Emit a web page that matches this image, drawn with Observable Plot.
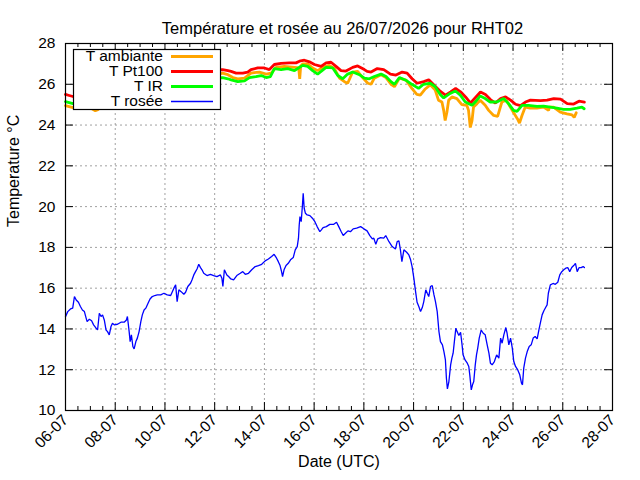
<!DOCTYPE html>
<html><head><meta charset="utf-8">
<script src="https://cdn.jsdelivr.net/npm/d3@7"></script>
<script src="https://cdn.jsdelivr.net/npm/@observablehq/plot@0.6"></script>
<style>
body{margin:0;background:#fff;}
#chart svg{display:block;}
</style></head>
<body><div id="chart"></div>
<script>
// ---- data (day offset from 06-07-2026 00:00 UTC, °C) ----
const titleText = "Température et rosée au 26/07/2026 pour RHT02";
const yLabel = "Temperature °C";
const xLabel = "Date (UTC)";
const seriesNames = ["T ambiante", "T Pt100", "T IR", "T rosée"];
const seriesColors = ["#ffa500", "#ff0000", "#00ff00", "#0000ff"];
const xTickDays = [0,2,4,6,8,10,12,14,16,18,20,22];
const yTickValues = [10,12,14,16,18,20,22,24,26,28];

const ambientPoints = [[0,24.95],[0.15,24.9],[0.3,24.85],[0.6,25.0],[1.0,24.85],[1.2,24.7],[1.3,24.75],[1.5,25.0],[2.0,25.2],[2.5,25.4],[3.0,25.6],[3.5,25.8],[4.0,25.95],[4.5,26.1],[5.0,26.25],[5.5,26.4],[6.0,26.45],
[6.32,26.55],[6.53,26.47],[6.73,26.33],[6.93,26.27],[7.2,26.3],[7.46,26.55],[7.8,26.6],[8.07,26.5],[8.27,26.55],[8.47,26.83],[8.8,26.88],[9.21,26.83],[9.38,26.8],[9.42,26.27],[9.46,26.9],[9.54,27.0],[9.74,27.0],[9.94,26.8],[10.14,26.67],[10.35,26.83],[10.61,26.93],[10.82,26.77],[11.02,26.3],[11.22,26.13],[11.35,26.05],[11.55,26.6],[11.75,26.63],[11.95,26.33],[12.16,26.05],[12.29,26.0],[12.42,26.3],[12.69,26.47],[12.89,26.33],[13.09,26.0],[13.23,25.88],[13.43,26.3],[13.7,26.2],[13.93,25.8],[14.13,25.5],[14.27,25.47],[14.47,25.77],[14.67,25.97],[14.87,25.72],[15.0,25.22],[15.14,25.13],[15.21,24.72],[15.27,24.22],[15.34,24.63],[15.41,25.22],[15.54,25.38],[15.74,25.3],[15.94,25.0],[16.14,24.97],[16.21,24.72],[16.28,23.88],[16.35,24.22],[16.41,24.88],[16.55,25.05],[16.68,25.22],[16.88,24.97],[17.02,24.72],[17.22,24.47],[17.38,24.43],[17.55,25.13],[17.73,25.22],[17.89,24.88],[18.05,24.55],[18.18,24.3],[18.26,24.1],[18.36,24.47],[18.49,24.88],[18.69,24.83],[18.96,24.83],[19.23,24.88],[19.43,24.72],[19.46,24.88],[19.63,24.88],[19.9,24.63],[20.17,24.55],[20.37,24.5],[20.46,24.38],[20.54,24.6]];

const pt100Points = [[0,25.5],[0.15,25.45],[0.3,25.4],[0.6,25.4],[1.0,25.35],[1.5,25.5],[2.0,25.65],[2.5,25.8],[3.0,25.95],[3.5,26.1],[4.0,26.2],[4.5,26.35],[5.0,26.45],[5.5,26.6],[6.0,26.7],
[6.32,26.72],[6.53,26.67],[6.66,26.63],[6.86,26.55],[7.13,26.55],[7.33,26.6],[7.46,26.72],[7.73,26.8],[8.0,26.8],[8.2,26.72],[8.4,26.97],[8.67,27.03],[9.0,27.05],[9.27,27.05],[9.41,27.13],[9.61,27.18],[9.81,27.1],[10.01,26.97],[10.28,26.88],[10.48,27.05],[10.68,27.08],[10.88,26.88],[11.08,26.67],[11.28,26.65],[11.55,26.83],[11.75,26.9],[12.02,26.72],[12.13,26.63],[12.29,26.6],[12.54,26.77],[12.8,26.72],[13.07,26.5],[13.29,26.45],[13.54,26.6],[13.74,26.55],[13.94,26.27],[14.14,26.05],[14.41,26.13],[14.61,26.22],[14.82,25.97],[15.08,25.65],[15.28,25.47],[15.49,25.63],[15.69,25.8],[15.89,25.63],[16.09,25.38],[16.29,25.08],[16.49,25.35],[16.69,25.62],[16.89,25.5],[17.09,25.25],[17.29,25.08],[17.5,25.3],[17.7,25.38],[17.9,25.22],[18.1,25.02],[18.3,24.95],[18.5,25.13],[18.7,25.22],[19.1,25.2],[19.37,25.22],[19.64,25.3],[19.91,25.27],[20.18,25.05],[20.44,25.03],[20.65,25.17],[20.87,25.13]];

const irPoints = [[0,25.15],[0.15,25.1],[0.3,25.05],[0.6,25.1],[1.0,25.0],[1.5,25.2],[2.0,25.35],[2.5,25.5],[3.0,25.65],[3.5,25.8],[4.0,25.9],[4.5,26.0],[5.0,26.1],[5.5,26.2],[6.0,26.3],
[6.32,26.33],[6.53,26.27],[6.66,26.22],[6.93,26.13],[7.2,26.17],[7.4,26.33],[7.66,26.38],[7.87,26.43],[8.07,26.33],[8.24,26.38],[8.4,26.77],[8.67,26.72],[8.94,26.77],[9.21,26.67],[9.37,26.8],[9.54,26.93],[9.74,26.88],[9.94,26.67],[10.14,26.5],[10.28,26.63],[10.48,26.83],[10.75,26.8],[10.95,26.43],[11.15,26.27],[11.35,26.5],[11.55,26.6],[11.82,26.47],[12.02,26.3],[12.22,26.27],[12.42,26.38],[12.69,26.5],[12.89,26.38],[13.09,26.13],[13.23,26.0],[13.43,26.33],[13.73,26.17],[13.93,26.0],[14.2,25.8],[14.4,26.0],[14.67,26.05],[14.87,25.88],[15.07,25.5],[15.21,25.33],[15.47,25.55],[15.68,25.67],[15.88,25.47],[16.08,25.13],[16.35,24.97],[16.48,25.13],[16.68,25.43],[16.88,25.3],[17.08,25.13],[17.35,25.13],[17.62,25.3],[17.82,25.05],[18.02,24.72],[18.16,24.67],[18.36,24.97],[18.62,24.97],[18.96,24.92],[19.23,24.93],[19.5,24.88],[19.76,24.83],[20.03,24.77],[20.3,24.77],[20.57,24.83],[20.77,24.88],[20.86,24.8]];

const dewPoints = [[0,14.6],[0.09,14.85],[0.2,14.98],[0.29,15.02],[0.36,15.59],[0.43,15.42],[0.52,15.31],[0.6,15.1],[0.68,14.93],[0.76,14.85],[0.83,14.53],[0.87,14.36],[0.96,14.48],[1.05,14.4],[1.13,14.2],[1.23,14.04],[1.29,13.95],[1.36,14.77],[1.43,14.61],[1.49,14.69],[1.56,14.44],[1.63,13.95],[1.69,13.87],[1.76,13.71],[1.83,14.12],[1.89,14.28],[1.96,14.2],[2.09,14.23],[2.23,14.33],[2.36,14.33],[2.45,14.44],[2.49,14.61],[2.56,13.87],[2.6,13.38],[2.65,13.71],[2.71,13.14],[2.76,13.02],[2.83,13.38],[2.89,13.55],[2.96,13.87],[3.03,14.36],[3.09,14.69],[3.16,14.93],[3.23,15.02],[3.32,15.26],[3.4,15.47],[3.49,15.59],[3.59,15.64],[3.69,15.67],[3.83,15.67],[3.96,15.75],[4.09,15.67],[4.23,15.64],[4.36,16.0],[4.43,16.16],[4.49,15.34],[4.56,15.92],[4.65,15.83],[4.76,15.7],[4.83,15.8],[4.92,16.08],[5.03,16.24],[5.09,16.41],[5.16,16.65],[5.23,16.81],[5.29,16.94],[5.36,17.17],[5.43,17.01],[5.49,16.9],[5.56,16.73],[5.69,16.62],[5.83,16.68],[5.96,16.62],[6.09,16.57],[6.23,16.65],[6.29,16.49],[6.33,16.08],[6.39,16.9],[6.49,16.65],[6.56,16.57],[6.65,16.45],[6.76,16.41],[6.89,16.62],[7.03,16.73],[7.13,16.81],[7.23,16.68],[7.36,16.73],[7.49,16.9],[7.63,17.06],[7.76,17.11],[7.89,17.17],[8.03,17.34],[8.16,17.43],[8.29,17.55],[8.39,17.66],[8.49,17.47],[8.56,17.3],[8.63,17.11],[8.69,16.81],[8.73,16.57],[8.79,16.9],[8.87,17.11],[8.96,17.22],[9.05,17.39],[9.16,17.5],[9.24,17.88],[9.32,18.04],[9.37,18.45],[9.4,19.1],[9.43,19.51],[9.48,19.26],[9.53,20.08],[9.56,20.65],[9.6,19.92],[9.65,19.67],[9.72,19.59],[9.83,19.56],[9.93,19.43],[10.03,19.26],[10.12,19.02],[10.23,18.77],[10.29,18.86],[10.36,18.97],[10.49,19.02],[10.63,19.13],[10.79,19.13],[10.9,19.23],[10.99,19.02],[11.09,18.77],[11.17,18.58],[11.26,18.69],[11.36,18.81],[11.46,18.77],[11.57,18.91],[11.71,18.94],[11.87,19.02],[12.0,18.91],[12.13,18.81],[12.24,18.58],[12.34,18.42],[12.4,18.45],[12.48,18.15],[12.56,18.42],[12.67,18.48],[12.8,18.45],[12.88,18.58],[13.01,18.28],[13.14,18.04],[13.27,17.92],[13.34,18.28],[13.41,18.32],[13.47,17.88],[13.53,17.3],[13.61,17.88],[13.72,17.76],[13.81,17.63],[13.88,17.39],[13.94,17.06],[14.01,16.49],[14.08,15.83],[14.14,15.31],[14.21,15.1],[14.28,14.85],[14.35,15.05],[14.41,15.34],[14.49,15.92],[14.55,15.75],[14.61,15.59],[14.68,16.08],[14.75,16.13],[14.82,15.67],[14.88,15.34],[14.95,14.85],[15.02,13.87],[15.08,13.38],[15.16,13.22],[15.22,12.89],[15.28,12.48],[15.32,11.58],[15.36,11.06],[15.42,11.42],[15.49,12.24],[15.54,12.57],[15.59,12.81],[15.64,13.38],[15.7,14.04],[15.75,13.87],[15.82,13.68],[15.89,13.84],[15.95,13.22],[15.99,12.73],[16.07,12.48],[16.16,12.32],[16.22,12.16],[16.26,11.75],[16.32,11.01],[16.37,11.26],[16.42,11.42],[16.48,12.24],[16.53,12.73],[16.58,13.06],[16.64,13.55],[16.72,13.95],[16.8,13.79],[16.88,13.71],[16.96,13.22],[17.03,12.81],[17.09,12.32],[17.16,12.24],[17.25,12.4],[17.34,12.73],[17.43,12.57],[17.5,13.55],[17.56,13.3],[17.63,13.71],[17.71,14.07],[17.76,13.79],[17.83,13.22],[17.9,13.55],[17.97,13.06],[18.03,12.4],[18.1,12.16],[18.19,11.99],[18.27,11.75],[18.34,11.34],[18.38,11.26],[18.43,12.08],[18.5,12.57],[18.57,12.89],[18.65,13.14],[18.73,13.22],[18.81,13.55],[18.89,13.63],[18.97,13.51],[19.04,13.95],[19.11,14.36],[19.17,14.69],[19.24,14.89],[19.31,15.05],[19.37,15.18],[19.42,15.75],[19.5,16.16],[19.61,16.23],[19.7,16.19],[19.8,16.29],[19.88,16.65],[19.96,16.81],[20.04,16.9],[20.12,16.98],[20.2,17.01],[20.28,16.81],[20.36,17.01],[20.44,17.11],[20.51,17.22],[20.58,16.81],[20.66,17.01],[20.74,17.01],[20.82,17.06],[20.87,17.01]];

// ---- build ----
const T0 = Date.UTC(2026, 6, 6);
const DAY = 864e5;
const toDate = d => new Date(T0 + d * DAY);
const rows = pts => pts.map(([d, v]) => ({date: toDate(d), value: v}));
const allSeries = [ambientPoints, pt100Points, irPoints, dewPoints].map(rows);

const W = 640, H = 480, mL = 65, mR = 28, mT = 43, mB = 70;
const innerW = W - mL - mR, innerH = H - mT - mB;
const majorDates = xTickDays.map(toDate);
const minorDates = d3.range(0.5, 22, 1).map(toDate).concat(d3.range(1, 22, 2).map(toDate));
const gridDates = majorDates.slice(1, -1);
const gridY = yTickValues.slice(1, -1);
const grid = {stroke: "#a0a0a0", strokeDasharray: "2,3", strokeWidth: 1};
const font = "'Liberation Sans', Arial, Helvetica, sans-serif";

const chart = Plot.plot({
  width: W, height: H,
  marginLeft: mL, marginRight: mR, marginTop: mT, marginBottom: mB,
  style: {fontFamily: font, fontSize: "15.5px", color: "#000", background: "#fff", overflow: "visible"},
  x: {type: "utc", domain: [toDate(0), toDate(22)]},
  y: {domain: [10, 28]},
  marks: [
    Plot.ruleX(gridDates, grid),
    Plot.ruleY(gridY, grid),
    ...allSeries.map((data, i) => Plot.line(data, {
      x: "date", y: "value", stroke: seriesColors[i],
      strokeWidth: i === 3 ? 1.3 : 2.8, strokeLinejoin: "miter"
    })),
    Plot.frame({stroke: "#000", strokeWidth: 1.2}),
    Plot.ruleX(majorDates, {insetTop: innerH - 8, stroke: "#000"}),
    Plot.ruleX(majorDates, {insetBottom: innerH - 8, stroke: "#000"}),
    Plot.ruleX(minorDates, {insetTop: innerH - 4, stroke: "#000"}),
    Plot.ruleX(minorDates, {insetBottom: innerH - 4, stroke: "#000"}),
    Plot.ruleY(yTickValues, {insetRight: innerW - 8, stroke: "#000"}),
    Plot.ruleY(yTickValues, {insetLeft: innerW - 8, stroke: "#000"}),
    Plot.axisX({ticks: majorDates, tickFormat: d3.utcFormat("%d-%m"), tickSize: 0, tickPadding: 7, tickRotate: -45, label: null}),
    Plot.axisY({ticks: yTickValues, tickSize: 0, tickPadding: 10, label: null}),
    Plot.text([titleText], {text: d => d, frameAnchor: "top", dy: -21, dx: 3.5, fontSize: 16.5}),
    Plot.text([yLabel], {text: d => d, frameAnchor: "left", dx: -52, rotate: -90, fontSize: 16}),
    Plot.text([xLabel], {text: d => d, frameAnchor: "bottom", dy: 56, fontSize: 16})
  ]
});

// ---- legend (opaque box, top-left inside the frame) ----
const svg = d3.select(chart);
const lg = svg.append("g").attr("font-family", font).attr("font-size", "15.5px");
lg.append("rect").attr("x", 73.5).attr("y", 49.5).attr("width", 147).attr("height", 60)
  .attr("fill", "#fff").attr("stroke", "#000").attr("stroke-width", 1.2);
seriesNames.forEach((name, i) => {
  const cy = 56.5 + i * 15;
  lg.append("text").attr("x", 163).attr("y", cy).attr("dy", "0.32em")
    .attr("text-anchor", "end").attr("fill", "#000").text(name);
  lg.append("line").attr("x1", 171).attr("x2", 213).attr("y1", cy).attr("y2", cy)
    .attr("stroke", seriesColors[i]).attr("stroke-width", i === 3 ? 1.3 : 2.8);
});

document.getElementById("chart").append(chart);
</script>
</body></html>
